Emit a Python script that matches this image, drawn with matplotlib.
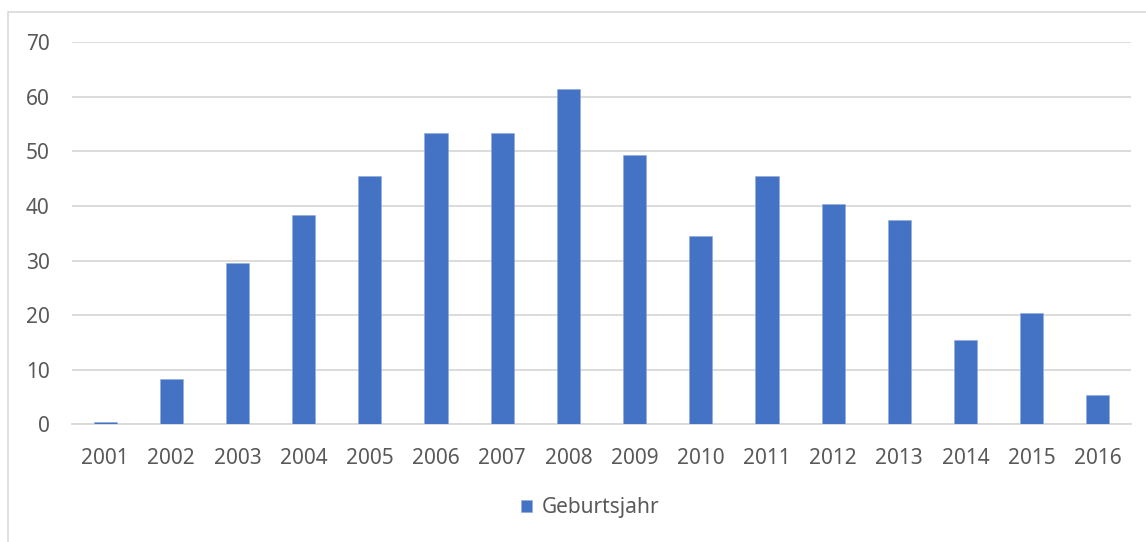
import numpy as np
import matplotlib.pyplot as plt
from matplotlib.patches import Rectangle

plt.rcParams['font.family'] = ['Noto Sans', 'DejaVu Sans']

# data
years = ['2001', '2002', '2003', '2004', '2005', '2006', '2007', '2008',
         '2009', '2010', '2011', '2012', '2013', '2014', '2015', '2016']
values = [0.4, 8.4, 29.5, 38.4, 45.4, 53.4, 53.4, 61.4,
          49.4, 34.4, 45.4, 40.4, 37.4, 15.4, 20.4, 5.4]
series_name = 'Geburtsjahr'
yticks = [0, 10, 20, 30, 40, 50, 60, 70]

text_col = '#595959'
grid_col = '#D9D9D9'
bar_col = '#4472C4'

W, H = 1146, 542
fig = plt.figure(figsize=(W / 100, H / 100), dpi=100)

# chart area frame (only left and top edge visible)
fig.patches.append(Rectangle((8 / W, -0.05), 1.1, 1 - 12 / H + 0.05,
                             transform=fig.transFigure, fill=False,
                             edgecolor=grid_col, linewidth=1.2))

ax = fig.add_axes([72 / W, 1 - 424.4 / H, (1131 - 72) / W, (424.4 - 42) / H])
x = np.arange(len(years))
bars = ax.bar(x, values, width=0.35, color=bar_col, edgecolor='#8FAADC',
              linewidth=0.4, label=series_name, zorder=3)

ax.set_xlim(-0.5, len(years) - 0.5)
ax.set_ylim(0, 70)
ax.set_yticks(yticks)
ax.set_xticks(x)
ax.set_xticklabels(years)
ax.yaxis.grid(True, color=grid_col, linewidth=1.3, zorder=0)
ax.set_axisbelow(True)
for s in ['top', 'right', 'left']:
    ax.spines[s].set_visible(False)
ax.spines['bottom'].set_color(grid_col)
ax.spines['bottom'].set_linewidth(1.3)
ax.spines['bottom'].set_zorder(1)
ax.tick_params(axis='both', length=0, labelsize=15, colors=text_col)
ax.tick_params(axis='y', pad=16)
ax.tick_params(axis='x', pad=17)

fig.legend(handles=[bars], labels=[series_name], loc='center',
           bbox_to_anchor=(590 / W, 1 - 508 / H), frameon=False,
           fontsize=15, labelcolor=text_col, handlelength=0.55,
           handleheight=0.55, handletextpad=0.45)

fig.savefig('out.png', dpi=100)
